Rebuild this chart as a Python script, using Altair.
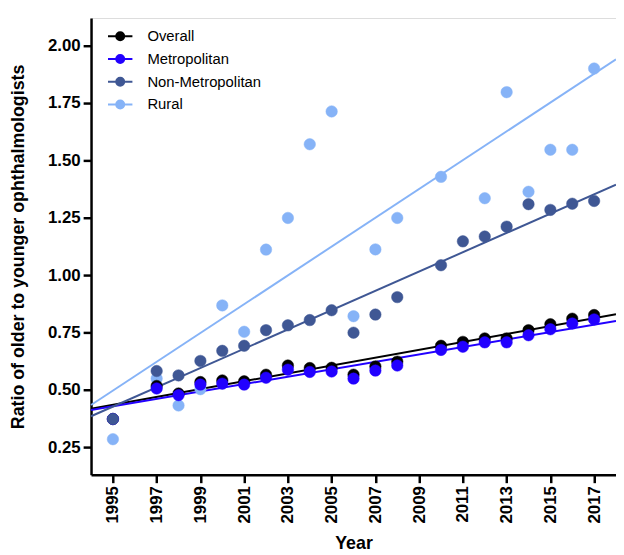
import altair as alt
import pandas as pd

years = [1995, 1997, 1998, 1999, 2000, 2001, 2002, 2003, 2004, 2005, 2006,
         2007, 2008, 2010, 2011, 2012, 2013, 2014, 2015, 2016, 2017]

overall = [0.373, 0.517, 0.484, 0.534, 0.541, 0.537, 0.566, 0.606, 0.595, 0.596, 0.566,
           0.602, 0.623, 0.692, 0.709, 0.724, 0.724, 0.760, 0.786, 0.810, 0.826]
metropolitan = [0.373, 0.506, 0.477, 0.523, 0.527, 0.523, 0.553, 0.588, 0.578, 0.580, 0.549,
                0.584, 0.606, 0.674, 0.688, 0.707, 0.707, 0.738, 0.764, 0.789, 0.807]
non_metropolitan = [0.373, 0.582, 0.563, 0.626, 0.670, 0.692, 0.760, 0.781, 0.804, 0.847, 0.749,
                    0.828, 0.904, 1.043, 1.147, 1.168, 1.211, 1.309, 1.284, 1.311, 1.323]
rural = [0.285, 0.549, 0.432, 0.503, 0.868, 0.753, 1.111, 1.249, 1.570, 1.713, 0.821,
         1.112, 1.249, 1.428, None, 1.335, 1.797, 1.363, 1.546, 1.546, 1.900]

# fitted trend lines (values at the two ends of the x range)
fit_years = [1994, 2018]
fit_overall = [0.418, 0.829]
fit_metropolitan = [0.412, 0.800]
fit_non_metropolitan = [0.385, 1.394]
fit_rural = [0.434, 1.940]

groups = ["Overall", "Metropolitan", "Non-Metropolitan", "Rural"]
colors = ["#000000", "#2200FF", "#3F5794", "#86B3F7"]
draw_order = ["Rural", "Overall", "Metropolitan", "Non-Metropolitan"]

series = {"Overall": overall, "Metropolitan": metropolitan,
          "Non-Metropolitan": non_metropolitan, "Rural": rural}
fits = {"Overall": fit_overall, "Metropolitan": fit_metropolitan,
        "Non-Metropolitan": fit_non_metropolitan, "Rural": fit_rural}

pts = []
for i, g in enumerate(draw_order):
    for y, v in zip(years, series[g]):
        if v is not None:
            pts.append({"year": y, "group": g, "value": v, "o": i})
pts = pd.DataFrame(pts)

lines = []
for i, g in enumerate(draw_order):
    for y, v in zip(fit_years, fits[g]):
        lines.append({"year": y, "group": g, "value": v, "o": i})
lines = pd.DataFrame(lines)

FONT = "Liberation Sans"
sym = "M-1.9,0H1.9M0.62,0A0.62,0.62,0,1,1,-0.62,0A0.62,0.62,0,1,1,0.62,0Z"

legend = alt.Legend(title=None, orient="none", legendX=22, legendY=11,
                    symbolType=sym, symbolSize=169, symbolStrokeWidth=2,
                    labelFont=FONT, labelFontSize=15, labelColor="black",
                    labelOffset=20, rowPadding=6, padding=0)

xscale = alt.Scale(domain=[1994, 2018], nice=False, zero=False)
yscale = alt.Scale(domain=[0.13, 2.12], nice=False, zero=False)
cscale = alt.Scale(domain=groups, range=colors)

xaxis = alt.Axis(title="Year", values=list(range(1995, 2018, 2)), format="d",
                 labelAngle=-90, labelFont=FONT, labelFontSize=17, labelFontWeight="bold",
                 labelColor="black", labelPadding=3, tickSize=8, tickWidth=2.5,
                 tickColor="black", domainColor="black", domainWidth=2.5, grid=False,
                 titleFont=FONT, titleFontSize=18, titleFontWeight="bold",
                 titleColor="black", titlePadding=12, labelBaseline="middle", labelAlign="right")
yaxis = alt.Axis(title="Ratio of older to younger ophthalmologists",
                 values=[0.25, 0.5, 0.75, 1.0, 1.25, 1.5, 1.75, 2.0], format=".2f",
                 labelFont=FONT, labelFontSize=17, labelFontWeight="bold",
                 labelColor="black", labelPadding=3, tickSize=8, tickWidth=2.5,
                 tickColor="black", domainColor="black", domainWidth=2.5, grid=False,
                 titleFont=FONT, titleFontSize=18, titleFontWeight="bold",
                 titleColor="black", titlePadding=20)

line_layer = alt.Chart(lines).mark_line(strokeWidth=2).encode(
    x=alt.X("year:Q", scale=xscale, axis=xaxis),
    y=alt.Y("value:Q", scale=yscale, axis=yaxis),
    stroke=alt.Stroke("group:N", scale=cscale, legend=legend),
    detail="group:N",
    order="o:Q",
)

point_layer = alt.Chart(pts).mark_circle(size=135, opacity=1, strokeWidth=0.5).encode(
    x=alt.X("year:Q", scale=xscale),
    y=alt.Y("value:Q", scale=yscale),
    fill=alt.Fill("group:N", scale=cscale, legend=legend),
    stroke=alt.Stroke("group:N", scale=cscale, legend=legend),
    order="o:Q",
)

chart = alt.layer(line_layer, point_layer).properties(
    width=531, height=462,
    autosize=alt.AutoSizeParams(type="none"),
    padding={"left": 84, "top": 7, "right": 0, "bottom": 78},
).configure_view(stroke="black", strokeWidth=2.5).configure(background="white")

chart.save("out.html", embed_options={"renderer": "svg", "actions": False})
